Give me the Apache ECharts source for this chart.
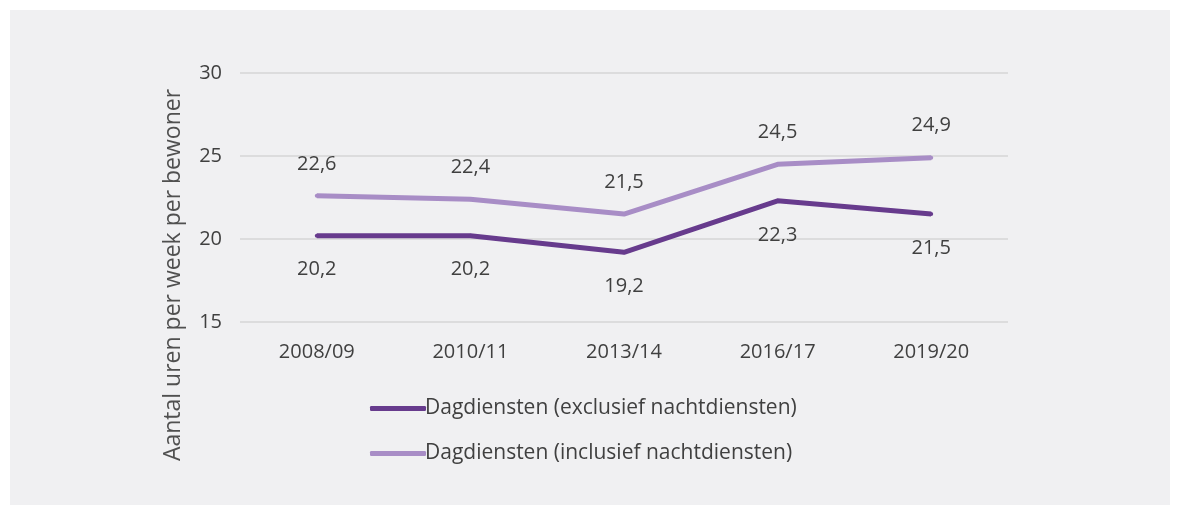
<!DOCTYPE html>
<html lang="nl">
<head>
    <meta charset="UTF-8">
    <script src="https://cdn.jsdelivr.net/npm/echarts@6/dist/echarts.min.js"></script>
    <title>Dagdiensten per bewoner</title>
    <style>
        body { margin: 0; background: #ffffff; }
    </style>
</head>
<body>
<div id="main" style="width: 1181px;height: 515px"></div>
<script type="text/javascript">
    // gegevens
    var jaren = ['2008/09', '2010/11', '2013/14', '2016/17', '2019/20'];
    var exclusief = [20.2, 20.2, 19.2, 22.3, 21.5];
    var inclusief = [22.6, 22.4, 21.5, 24.5, 24.9];
    var reeksNamen = ['Dagdiensten (exclusief nachtdiensten)', 'Dagdiensten (inclusief nachtdiensten)'];

    var font = 'Open Sans';
    var tekstKleur = '#404040';

    function komma(p) {
        return String(p.value).replace('.', ',');
    }

    var myChart = echarts.init(document.getElementById("main"));

    myChart.setOption({
        backgroundColor: '#ffffff',
        textStyle: { fontFamily: font },
        graphic: [
            {
                type: 'rect',
                z: -10,
                shape: { x: 10, y: 10, width: 1160, height: 495 },
                style: { fill: '#f0f0f2' }
            },
            {
                type: 'text',
                x: 173,
                y: 275,
                rotation: Math.PI / 2,
                style: {
                    text: 'Aantal uren per week per bewoner',
                    fontFamily: font,
                    fontSize: 23,
                    fill: '#505050',
                    align: 'center',
                    verticalAlign: 'middle'
                }
            }
        ],
        grid: {
            left: 240,
            right: 173,
            top: 73,
            height: 249,
            containLabel: false
        },
        legend: {
            orient: 'vertical',
            left: 365,
            top: 393,
            itemWidth: 56,
            itemHeight: 5,
            itemGap: 24,
            icon: 'roundRect',
            data: reeksNamen,
            textStyle: { fontSize: 21, color: tekstKleur, fontFamily: font, padding: [0, 0, 0, -6] }
        },
        xAxis: {
            type: 'category',
            data: jaren,
            boundaryGap: true,
            axisLine: { show: false },
            axisTick: { show: false },
            axisLabel: { fontSize: 20, color: tekstKleur, margin: 20 }
        },
        yAxis: {
            type: 'value',
            min: 15,
            max: 30,
            interval: 5,
            axisLine: { show: false },
            axisTick: { show: false },
            axisLabel: { fontSize: 20, color: tekstKleur, margin: 18 },
            splitLine: { lineStyle: { color: '#d6d6d6', width: 1.5 } }
        },
        series: [
            {
                name: reeksNamen[0],
                type: 'line',
                data: exclusief,
                symbol: 'circle',
                symbolSize: 4,
                showSymbol: true,
                color: '#673b8d',
                itemStyle: { color: '#673b8d', borderWidth: 0 },
                lineStyle: { width: 5, color: '#673b8d' },
                label: {
                    show: true,
                    position: 'bottom',
                    distance: 22,
                    fontSize: 20,
                    color: tekstKleur,
                    formatter: komma
                }
            },
            {
                name: reeksNamen[1],
                type: 'line',
                data: inclusief,
                symbol: 'circle',
                symbolSize: 4,
                showSymbol: true,
                color: '#a88dc6',
                itemStyle: { color: '#a88dc6', borderWidth: 0 },
                lineStyle: { width: 5, color: '#a88dc6' },
                label: {
                    show: true,
                    position: 'top',
                    distance: 20,
                    fontSize: 20,
                    color: tekstKleur,
                    formatter: komma
                }
            }
        ]
    });
</script>
</body>
</html>
